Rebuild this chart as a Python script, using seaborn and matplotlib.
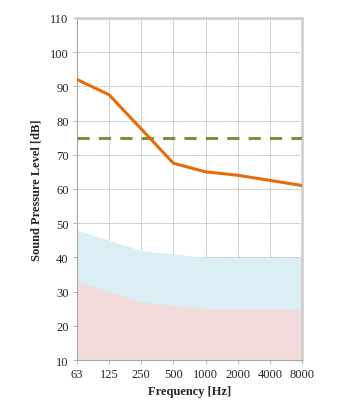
import matplotlib
matplotlib.use("Agg")
import matplotlib.pyplot as plt
import seaborn as sns
import pandas as pd

freq_labels = ["63", "125", "250", "500", "1000", "2000", "4000", "8000"]
spl_line = [92, 87.5, 77.5, 67.5, 65, 64, 62.5, 61]
blue_upper = [48, 45, 42, 41, 40, 40, 40, 40]
pink_upper = [33, 30, 27, 26, 25, 25, 25, 25]
threshold = 75
y_ticks = [10, 20, 30, 40, 50, 60, 70, 80, 90, 100, 110]

sns.set_theme(style="white")
plt.rcParams['font.family'] = ['Liberation Serif', 'DejaVu Serif']

df = pd.DataFrame({"pos": range(len(freq_labels)), "spl": spl_line,
                   "blue": blue_upper, "pink": pink_upper})

fig = plt.figure(figsize=(3.5, 4.1), dpi=100)
ax = fig.add_axes([0.22, 0.1195, 0.643, 0.8345])

ax.fill_between(df["pos"], 10, df["blue"], color="#DAEEF3", linewidth=0, zorder=1)
ax.fill_between(df["pos"], 10, df["pink"], color="#F2DCDB", linewidth=0, zorder=1.1)
ax.axhline(threshold, color="#77933C", linestyle=(0, (4, 3)), linewidth=2.2, zorder=3)
sns.lineplot(data=df, x="pos", y="spl", ax=ax, color="#E46C0A", linewidth=2.2, zorder=4)

ax.set_xlim(0, len(freq_labels) - 1)
ax.set_ylim(10, 110)
ax.set_xticks(range(len(freq_labels)))
ax.set_xticklabels(freq_labels)
ax.set_yticks(y_ticks)
ax.grid(True, color="#999999", linestyle=(0, (1, 1)), linewidth=0.6, zorder=0)
ax.set_axisbelow(True)

for s in ["top", "right"]:
    ax.spines[s].set_color("#D0D0D0")
    ax.spines[s].set_linewidth(2)
for s in ["left", "bottom"]:
    ax.spines[s].set_color("#A6A6A6")
    ax.spines[s].set_linewidth(0.8)

ax.tick_params(axis="both", which="both", direction="out", length=3, width=0.6,
               color="#A6A6A6", labelsize=9, labelcolor="#262626", pad=3,
               bottom=True, left=True)
ax.set_xlabel("Frequency [Hz]", fontsize=9, fontweight="bold", color="#262626", labelpad=3)
ax.set_ylabel("Sound Pressure Level [dB]", fontsize=9, fontweight="bold", color="#262626", labelpad=5)

fig.savefig("out.png", dpi=100)
